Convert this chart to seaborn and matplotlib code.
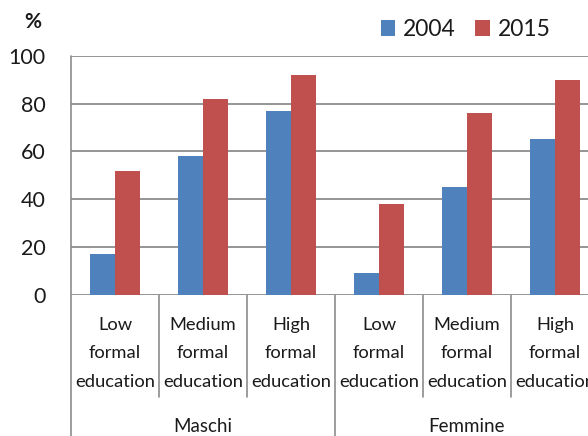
import matplotlib.pyplot as plt
import seaborn as sns
import pandas as pd

groups = ["Maschi", "Femmine"]
levels = ["Low\nformal\neducation", "Medium\nformal\neducation", "High\nformal\neducation"]
years = ["2004", "2015"]
v2004 = [17, 58, 77, 9, 45, 65]
v2015 = [52, 82, 92, 38, 76, 90]
yticks = [0, 20, 40, 60, 80, 100]

colors = {"2004": "#4f81bd", "2015": "#c0504d"}
grid_col = "#8c8c8c"
txt_col = "#1a1a1a"

# long-form table, one row per bar
keys = [f"{g}|{i}" for g in groups for i in range(len(levels))]
df = pd.DataFrame(
    {
        "key": keys * 2,
        "year": ["2004"] * len(keys) + ["2015"] * len(keys),
        "value": v2004 + v2015,
    }
)

sns.set_style("white")
plt.rcParams["font.family"] = ["Lato", "DejaVu Sans"]

fig = plt.figure(figsize=(5.88, 4.36), dpi=100)
ax = fig.add_axes([0.1207, 0.3245, 0.898, 0.547])

sns.barplot(
    data=df,
    x="key",
    y="value",
    hue="year",
    order=keys,
    hue_order=years,
    palette=colors,
    width=0.57,
    gap=0,
    edgecolor="none",
    saturation=1,
    ax=ax,
)

ax.set_ylim(0, 100)
ax.set_xlim(-0.5, len(keys) - 0.5)
ax.set_yticks(yticks)
ax.set_xticks([])
ax.set_xlabel("")
ax.set_ylabel("")
ax.yaxis.grid(True, color=grid_col, linewidth=1.3)
ax.set_axisbelow(True)
for s in ax.spines.values():
    s.set_visible(False)
ax.tick_params(axis="y", length=6.5, width=1.2, color=grid_col, pad=12,
               labelsize=15.5, labelcolor=txt_col)

# vertical axis line and category dividers
tr = ax.get_xaxis_transform()
ax.plot([-0.5, -0.5], [1, -0.7], color=grid_col, lw=1.2, transform=tr, clip_on=False)
for xb in [2.5, 5.5]:
    ax.plot([xb, xb], [0, -0.7], color=grid_col, lw=1.2, transform=tr, clip_on=False)
for xb in [0.5, 1.5, 3.5, 4.5]:
    ax.plot([xb, xb], [0, -0.43], color=grid_col, lw=1.2, transform=tr, clip_on=False)

# category labels, three lines each
line_y = [-0.128, -0.245, -0.367]
for gi, g in enumerate(groups):
    for li, lab in enumerate(levels):
        xc = gi * len(levels) + li
        for ln, yy in zip(lab.split("\n"), line_y):
            ax.text(xc, yy, ln, transform=tr, ha="center", va="center",
                    fontsize=13.2, color=txt_col)
    ax.text(gi * len(levels) + 1, -0.555, g, transform=tr, ha="center", va="center",
            fontsize=13.5, color=txt_col)

ax.text(-0.072, 1.143, "%", transform=ax.transAxes, ha="center", va="center",
        fontsize=15, fontweight="bold", color=txt_col)

sns.move_legend(
    ax,
    "center left",
    bbox_to_anchor=(0.648, 0.933),
    bbox_transform=fig.transFigure,
    ncol=2,
    title=None,
    frameon=False,
    fontsize=16.5,
    handlelength=0.62,
    handleheight=0.68,
    handletextpad=0.35,
    columnspacing=0.85,
    borderpad=0,
    borderaxespad=0,
    labelcolor=txt_col,
)

fig.savefig("out.png", dpi=100)
